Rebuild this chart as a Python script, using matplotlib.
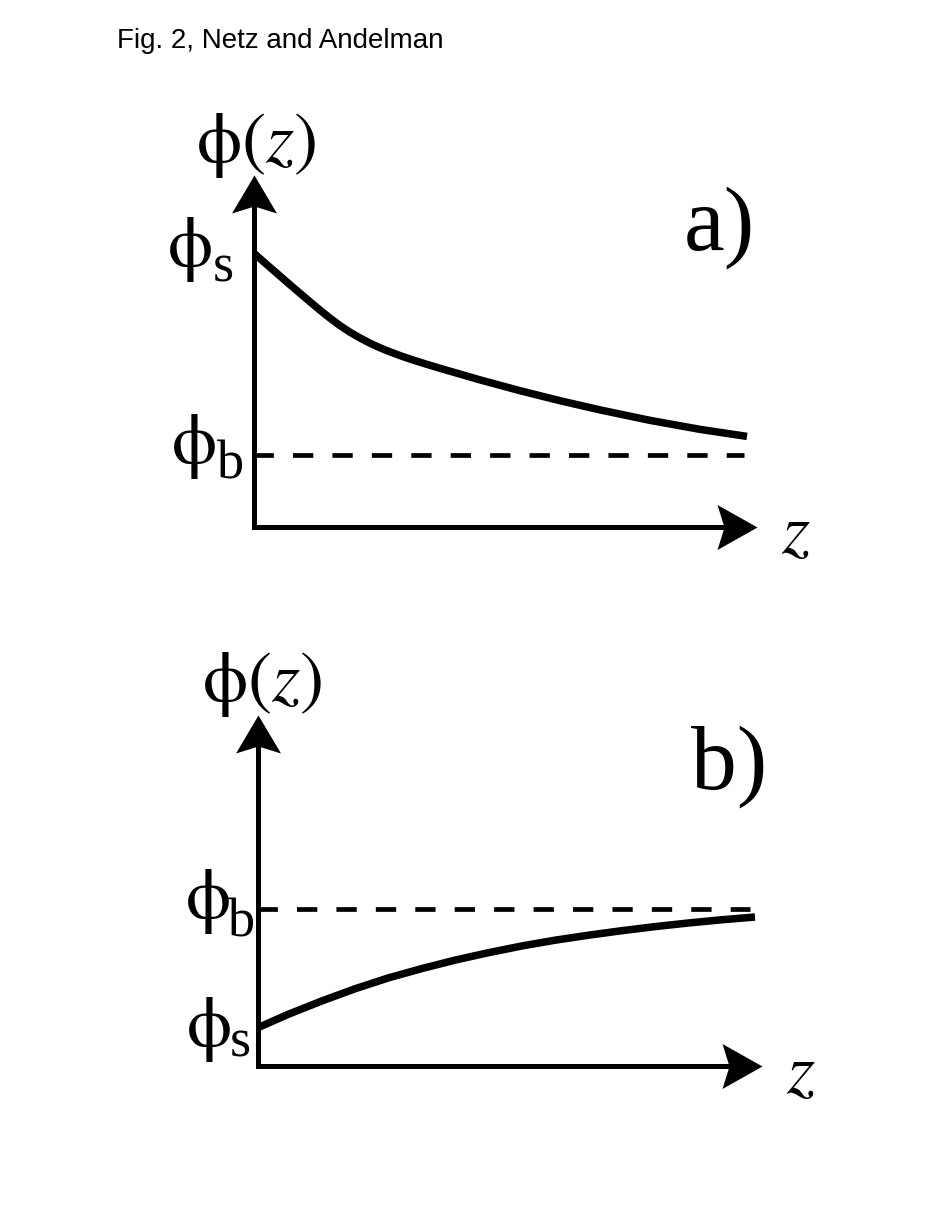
import numpy as np
import matplotlib
matplotlib.use('Agg')
import matplotlib.pyplot as plt
from matplotlib.path import Path

plt.rcParams['mathtext.fontset'] = 'stix'

# ---------------- data ----------------
title = "Fig. 2, Netz and Andelman"

# panel a) : decaying profile phi(z) from phi_s down toward phi_b
z_a = [0.0, 0.318, 0.716, 1.113, 1.312, 1.511, 1.710, 1.909, 2.107, 2.306,
       2.505, 2.704, 2.903, 3.101, 3.400, 3.698, 4.493, 5.288, 6.083, 6.879,
       7.873, 8.867, 9.801]
phi_a = [5.441, 5.162, 4.816, 4.478, 4.311, 4.152, 4.004, 3.873, 3.758, 3.654,
         3.563, 3.482, 3.408, 3.340, 3.245, 3.155, 2.925, 2.710, 2.511, 2.328,
         2.120, 1.941, 1.801]
phi_bulk_a = 1.43
z_dash_end_a = 9.75

# panel b) : rising profile phi(z) from phi_s up toward phi_b
z_b = [0.0, 0.602, 1.266, 1.928, 2.590, 3.254, 3.917, 4.579, 5.243, 5.905,
       6.567, 7.231, 7.893, 8.555, 9.219, 9.881]
phi_b = [0.763, 1.028, 1.292, 1.535, 1.751, 1.936, 2.105, 2.252, 2.386, 2.501,
         2.600, 2.690, 2.771, 2.843, 2.907, 2.962]
phi_bulk_b = 3.13
z_dash_end_b = 9.78

z_axis_end = [10.0, 10.02]
phi_axis_end = [7.0, 6.98]
panel_labels = ["a)", "b)"]
axis_label_y = r'$\mathrm{\phi}(z)$'
axis_label_x = r'$z$'
level_symbol = r'$\mathrm{\phi}$'
level_subscripts = ["s", "b"]

# ---------------- figure ----------------
W, H, DPI = 926, 1205, 100
fig = plt.figure(figsize=(W / DPI, H / DPI), dpi=DPI)
S = 50.3  # pixels per data unit

def make_axes(ox, oy):
    x0, x1, y0, y1 = -3.0, 12.0, -2.0, 9.0
    left = (ox + x0 * S) / W
    width = (x1 - x0) * S / W
    bottom = (H - (oy - y0 * S)) / H
    height = (y1 - y0) * S / H
    ax = fig.add_axes([left, bottom, width, height])
    ax.set_xlim(x0, x1)
    ax.set_ylim(y0, y1)
    ax.set_axis_off()
    ax.patch.set_visible(False)
    return ax

# arrow head markers (tip at origin), sizes in pixels
up_head = Path([(0, 0), (22.5, -38), (0, -31), (-22.5, -38), (0, 0)],
               [Path.MOVETO, Path.LINETO, Path.LINETO, Path.LINETO, Path.CLOSEPOLY])
right_head = Path([(0, 0), (-40, 22.5), (-33, 0), (-40, -22.5), (0, 0)],
                  [Path.MOVETO, Path.LINETO, Path.LINETO, Path.LINETO, Path.CLOSEPOLY])
px2pt = 72.0 / DPI

AX_LW = 3.6
CURVE_LW = 5.4
DASH_LW = 3.4
serif = ['Liberation Serif', 'DejaVu Serif']

def level_label(ax, phi_pos, sub_pos, sub):
    ax.text(phi_pos[0], phi_pos[1], level_symbol, fontsize=52,
            ha='center', va='center')
    ax.text(sub_pos[0], sub_pos[1], sub, fontsize=39, family=serif,
            ha='left', va='baseline')

def draw_panel(ax, z, phi, phib, zdash_end, zend, pend, label,
               lab_phi_z, lab_label, lab_z, lab_s, lab_b):
    # axes (L shape)
    ax.plot([0, 0, zend - 0.5], [pend - 0.5, 0, 0], color='black', lw=AX_LW,
            solid_joinstyle='miter', solid_capstyle='butt', clip_on=False)
    ax.plot([0], [pend], marker=up_head, markersize=2 * 38 * px2pt,
            color='black', mew=0, clip_on=False)
    ax.plot([zend], [0], marker=right_head, markersize=2 * 40 * px2pt,
            color='black', mew=0, clip_on=False)
    # bulk dashed line
    ax.plot([0, zdash_end], [phib, phib], color='black', lw=DASH_LW,
            linestyle=(0.2, (4.3, 4.05)), dash_capstyle='butt', clip_on=False)
    # profile
    ax.plot(z, phi, color='black', lw=CURVE_LW, solid_capstyle='butt',
            solid_joinstyle='round', clip_on=False)
    # texts
    ax.text(lab_phi_z[0], lab_phi_z[1], axis_label_y, fontsize=52,
            ha='center', va='center')
    ax.text(lab_label[0], lab_label[1], label, fontsize=66, family=serif,
            ha='center', va='center')
    ax.text(lab_z[0], lab_z[1], axis_label_x, fontsize=52, ha='center', va='center')
    level_label(ax, lab_s[0], lab_s[1], level_subscripts[0])
    level_label(ax, lab_b[0], lab_b[1], level_subscripts[1])

ax_a = make_axes(254, 527)
draw_panel(ax_a, z_a, phi_a, phi_bulk_a, z_dash_end_a, z_axis_end[0], phi_axis_end[0],
           panel_labels[0],
           lab_phi_z=(0.03, 7.58), lab_label=(9.26, 5.96), lab_z=(10.78, -0.12),
           lab_s=((-1.292, 5.507), (-0.815, 4.871)),
           lab_b=((-1.213, 1.600), (-0.736, 0.974)))

ax_b = make_axes(258, 1066)
draw_panel(ax_b, z_b, phi_b, phi_bulk_b, z_dash_end_b, z_axis_end[1], phi_axis_end[1],
           panel_labels[1],
           lab_phi_z=(0.07, 7.58), lab_label=(9.36, 5.96), lab_z=(10.8, -0.14),
           lab_s=((-0.994, 0.716), (-0.557, 0.179)),
           lab_b=((-1.014, 3.270), (-0.596, 2.565)))

fig.text(117 / W, 1 - 48 / H, title, fontsize=20, family=['Liberation Sans', 'DejaVu Sans'],
         ha='left', va='baseline')

fig.savefig('out.png', dpi=DPI)
